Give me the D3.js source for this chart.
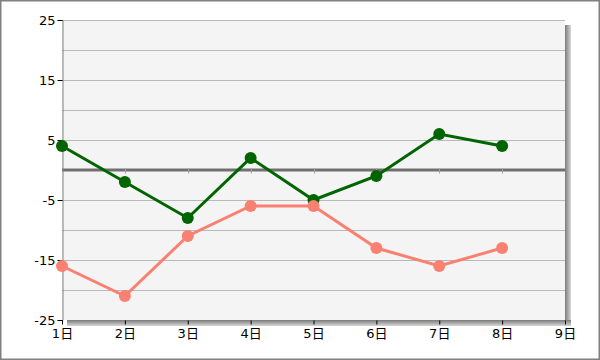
<!DOCTYPE html>
<html><head><meta charset="utf-8">
<script src="https://cdn.jsdelivr.net/npm/d3@7"></script>
<style>body{margin:0;background:#fff}svg{display:block}</style>
</head><body><svg id="c" width="600" height="360"></svg>
<script>
const categories = ["1日","2日","3日","4日","5日","6日","7日","8日","9日"];
const seriesGreen = [4,-2,-8,2,-5,-1,6,4];
const seriesSalmon = [-16,-21,-11,-6,-6,-13,-16,-13];
const yTickLabels = [25,15,5,-5,-15,-25];
const yGridValues = [25,20,15,10,5,-5,-10,-15,-20];

const svg = d3.select("#c");
const L = 62, R = 565, T = 20, B = 320;
const x = d3.scalePoint().domain(categories).range([L, R]);
const y = d3.scaleLinear().domain([-25, 25]).range([B, T]);
const FONT = '"DejaVu Sans","Noto Sans CJK JP",sans-serif';

// outer border
svg.append("rect").attr("x",0.75).attr("y",0.75).attr("width",598.5).attr("height",358.5)
  .attr("fill","#fff").attr("stroke","#808080").attr("stroke-width",1.5);

// shadow
const defs = svg.append("defs");
const gr = defs.append("linearGradient").attr("id","shR").attr("x1",0).attr("x2",1).attr("y1",0).attr("y2",0);
gr.append("stop").attr("offset",0).attr("stop-color","#7a7a7a");
gr.append("stop").attr("offset",1).attr("stop-color","#d8d8d8");
const gb = defs.append("linearGradient").attr("id","shB").attr("x1",0).attr("x2",0).attr("y1",0).attr("y2",1);
gb.append("stop").attr("offset",0).attr("stop-color","#7a7a7a");
gb.append("stop").attr("offset",1).attr("stop-color","#d8d8d8");
svg.append("rect").attr("x",R).attr("y",T+5).attr("width",6).attr("height",B-T+1).attr("fill","url(#shR)");
svg.append("rect").attr("x",L+5).attr("y",B).attr("width",R-L+1).attr("height",6).attr("fill","url(#shB)");

// plot background
svg.append("rect").attr("x",L).attr("y",T).attr("width",R-L).attr("height",B-T).attr("fill","#f4f4f4");

// gridlines
svg.append("g").selectAll("line").data(yGridValues).join("line")
  .attr("x1",L).attr("x2",R).attr("y1",d=>Math.round(y(d))+0.5).attr("y2",d=>Math.round(y(d))+0.5)
  .attr("stroke","#b9b9b9").attr("stroke-width",1);

// zero line
svg.append("line").attr("x1",L).attr("x2",R).attr("y1",y(0)).attr("y2",y(0))
  .attr("stroke","#707070").attr("stroke-width",3);
svg.append("g").selectAll("line").data(categories.slice(1,-1)).join("line")
  .attr("x1",d=>Math.round(x(d))+0.5).attr("x2",d=>Math.round(x(d))+0.5)
  .attr("y1",y(0)-1.5).attr("y2",y(0)+3.5).attr("stroke","#a0a0a0").attr("stroke-width",1);

// y axis
const yAxis = d3.axisLeft(y).tickValues(yTickLabels).tickSize(5).tickPadding(2).tickFormat(d=>String(d));
const gy = svg.append("g").attr("transform",`translate(${L+0.5},0)`).call(yAxis);
gy.attr("font-size",13).attr("font-family",FONT);
gy.select(".domain").attr("stroke","#808080");
gy.selectAll(".tick line").attr("stroke","#000");
gy.selectAll("text").attr("fill","#000");

// x axis
const xAxis = d3.axisBottom(x).tickSize(4).tickPadding(4);
const gx = svg.append("g").attr("transform",`translate(0,${B+0.5})`).call(xAxis);
gx.attr("font-size",13).attr("font-family",FONT);
gx.select(".domain").remove();
gx.selectAll(".tick line").attr("stroke","#000");
gx.selectAll("text").attr("fill","#000");

// series
function drawSeries(data, color){
  const pts = data.map((v,i)=>[x(categories[i]), y(v)]);
  svg.append("path").attr("d", d3.line()(pts)).attr("fill","none").attr("stroke",color).attr("stroke-width",3);
  svg.append("g").selectAll("circle").data(pts).join("circle")
    .attr("cx",d=>d[0]).attr("cy",d=>d[1]).attr("r",6).attr("fill",color);
}
drawSeries(seriesGreen, "#006400");
drawSeries(seriesSalmon, "#fa8072");
</script></body></html>
